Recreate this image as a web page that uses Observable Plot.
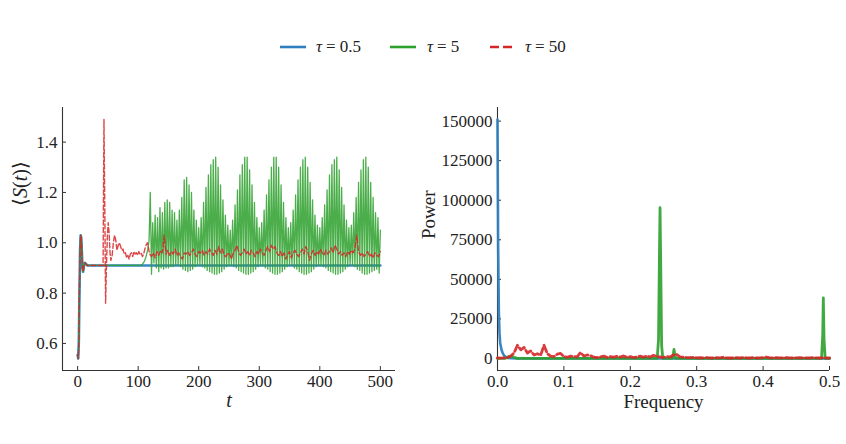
<!DOCTYPE html>
<html>
<head>
<meta charset="utf-8">
<script src="https://cdn.jsdelivr.net/npm/d3@7"></script>
<script src="https://cdn.jsdelivr.net/npm/@observablehq/plot@0.6"></script>
<style>
  html, body { margin: 0; padding: 0; background: #fff; }
  #page { position: relative; width: 846px; height: 444px; overflow: hidden; font-family: "Liberation Serif", "Times New Roman", serif; color: #222; }
  #legend { position: absolute; top: 36px; left: 0; width: 846px; height: 22px; font-size: 17px; font-family: "Liberation Serif", "Times New Roman", serif; }
  .item { position: absolute; top: 0; height: 22px; display: flex; align-items: center; }
  .item svg { display: block; }
  .tau { font-style: italic; }
  #left { position: absolute; left: 0; top: 90px; }
  #right { position: absolute; left: 420px; top: 90px; }
  #left text, #right text { font-family: "Liberation Serif", "Times New Roman", serif; }
</style>
</head>
<body>
<div id="page">
  <div id="legend"></div>
  <div id="left"></div>
  <div id="right"></div>
</div>
<script>
// ---- Series labels and colours ----
const seriesNames = ["0.5", "5", "50"];
const seriesColors = ["#2e7fc0", "#2ca02c", "#d62728"];

// ---- Mean order parameter <S(t)> ----
// tau = 0.5: quick relaxation to a fixed point
const blueT = [0, 1, 2, 3, 4, 5, 6, 7, 8, 9, 10, 11, 12, 14, 16, 20, 500];
const blueS = [0.555, 0.54, 0.61, 0.80, 0.97, 1.03, 1.02, 0.96, 0.90, 0.885, 0.90, 0.915, 0.92, 0.915, 0.91, 0.91, 0.91];

// tau = 5: relaxes, then a growing oscillation sets in near t = 105
const greenEarlyT = [0, 1, 2, 3, 4, 5, 6, 7, 8, 9, 10, 11, 12, 14, 16, 20, 104, 107, 110, 113, 116, 118];
const greenEarlyS = [0.555, 0.54, 0.61, 0.80, 0.97, 1.03, 1.02, 0.96, 0.90, 0.885, 0.90, 0.915, 0.92, 0.915, 0.91, 0.91, 0.91, 0.915, 0.925, 0.945, 0.975, 1.01];
// sampled every 2 time units from t = 120 (alternating crest / trough)
const greenOscStart = 120, greenOscStep = 2;
const greenOsc = [
  1.20, 0.875, 1.08, 0.92, 1.11, 0.90, 1.10, 0.885, 1.14, 0.90, 1.12, 0.895, 1.16, 0.90, 1.17, 0.90,
  1.16, 0.905, 1.13, 0.905, 1.12, 0.91, 1.09, 0.91, 1.13, 0.905, 1.18, 0.895, 1.25, 0.89, 1.26, 0.885,
  1.23, 0.89, 1.20, 0.895, 1.13, 0.905, 1.09, 0.91, 1.06, 0.91, 1.10, 0.905, 1.16, 0.90, 1.22, 0.89,
  1.27, 0.885, 1.31, 0.88, 1.33, 0.875, 1.34, 0.875, 1.30, 0.88, 1.23, 0.885, 1.17, 0.895, 1.11, 0.905,
  1.07, 0.91, 1.05, 0.91, 1.09, 0.905, 1.15, 0.90, 1.21, 0.89, 1.27, 0.885, 1.31, 0.88, 1.34, 0.875,
  1.34, 0.875, 1.29, 0.88, 1.23, 0.885, 1.16, 0.895, 1.10, 0.905, 1.06, 0.91, 1.08, 0.91, 1.13, 0.90,
  1.19, 0.895, 1.25, 0.885, 1.30, 0.88, 1.34, 0.875, 1.34, 0.875, 1.30, 0.88, 1.23, 0.885, 1.16, 0.895,
  1.10, 0.905, 1.06, 0.91, 1.08, 0.91, 1.13, 0.90, 1.19, 0.895, 1.25, 0.885, 1.30, 0.88, 1.33, 0.875,
  1.34, 0.875, 1.30, 0.88, 1.24, 0.885, 1.17, 0.895, 1.11, 0.905, 1.07, 0.91, 1.06, 0.91, 1.10, 0.905,
  1.15, 0.90, 1.21, 0.89, 1.27, 0.885, 1.31, 0.88, 1.33, 0.875, 1.34, 0.875, 1.29, 0.88, 1.22, 0.885,
  1.15, 0.895, 1.09, 0.905, 1.06, 0.91, 1.07, 0.91, 1.12, 0.905, 1.18, 0.895, 1.24, 0.89, 1.29, 0.88,
  1.33, 0.875, 1.34, 0.875, 1.30, 0.88, 1.24, 0.885, 1.18, 0.89, 1.12, 0.895, 1.10, 0.88, 1.05
];

// tau = 50: large excursion near t = 44, then irregular fluctuations
const redEarlyT = [0, 1, 2, 3, 4, 5, 6, 7, 8, 9, 10, 11, 12, 14, 16, 20, 30, 42, 43.5, 45, 46.2, 47.5, 49, 50.5, 52, 53.5, 55,
  57, 59, 61, 63, 65, 67, 69, 71, 73, 75, 77, 79, 81, 83, 85, 87, 89, 91, 93, 95, 97, 99, 101, 103, 105, 107, 109, 111, 113, 115, 117];
const redEarlyS = [0.555, 0.54, 0.61, 0.80, 0.97, 1.03, 1.02, 0.96, 0.90, 0.885, 0.90, 0.915, 0.92, 0.915, 0.91, 0.91, 0.91, 0.91, 1.49, 1.10, 0.76, 0.90, 1.02, 1.08, 1.04, 0.96, 0.93,
  0.95, 1.00, 1.03, 1.01, 0.97, 0.99, 1.00, 0.985, 0.97, 0.975, 0.955, 0.96, 0.94, 0.95, 0.935, 0.955, 0.96, 0.945, 0.965, 0.955, 0.96, 0.95, 0.965, 0.955, 0.96, 0.945, 0.955, 0.975, 0.99, 1.00, 0.98];
// sampled every 3 time units from t = 119
const redTailStart = 119, redTailStep = 3;
const redTail = [
  0.955, 0.945, 0.96, 0.94, 0.965, 0.95, 0.97, 0.96, 1.03, 0.955, 0.97, 0.95, 0.965, 0.955, 0.975, 0.95,
  0.96, 0.945, 0.935, 0.96, 0.955, 0.965, 0.95, 0.96, 0.975, 0.955, 0.945, 0.965, 0.96, 0.97, 0.95, 0.965,
  0.955, 0.975, 0.96, 0.95, 0.97, 0.955, 0.985, 0.96, 0.975, 0.95, 0.945, 0.96, 0.955, 0.935, 0.96, 0.97,
  0.99, 0.965, 0.95, 0.96, 0.975, 0.955, 0.965, 0.95, 0.97, 0.96, 0.945, 0.965, 0.955, 0.975, 0.96, 0.95,
  0.97, 0.985, 0.965, 0.99, 0.975, 0.985, 0.96, 0.95, 0.965, 0.945, 0.96, 0.935, 0.955, 0.965, 0.94, 0.96,
  0.97, 0.955, 0.945, 0.96, 0.975, 0.955, 0.985, 0.965, 0.93, 0.955, 0.97, 0.95, 0.965, 0.955, 0.975, 0.96,
  0.95, 0.97, 0.955, 0.965, 0.98, 0.96, 0.99, 0.975, 0.955, 0.965, 0.95, 0.96, 0.945, 0.965, 0.955, 0.97,
  0.96, 0.975, 1.03, 0.965, 0.95, 0.96, 0.945, 0.955, 0.965, 0.945, 0.955, 0.94, 0.96, 0.95, 0.945, 0.965
];

// ---- Power spectra ----
const blueF = [0, 0.001, 0.002, 0.003, 0.004, 0.006, 0.008, 0.010, 0.013, 0.016, 0.020, 0.030, 0.5];
const blueP = [151000, 70000, 30000, 16000, 10000, 5500, 3200, 1800, 800, 300, 100, 0, 0];

const greenF = [0, 0.012, 0.017, 0.021, 0.025, 0.030, 0.2405, 0.2425, 0.2440, 0.2448, 0.2458, 0.2472, 0.2490,
  0.2630, 0.2648, 0.2658, 0.2670, 0.2685, 0.4880, 0.4898, 0.4907, 0.4918, 0.4935, 0.5];
const greenP = [0, 100, 1200, 1500, 800, 100, 0, 12000, 70000, 95300, 60000, 8000, 0,
  0, 3000, 5700, 2500, 0, 0, 15000, 38300, 12000, 0, 0];

// tau = 50 spectrum, sampled every 0.005 from f = 0
const redSpecStart = 0, redSpecStep = 0.005;
const redSpec = [
  300, 200, 400, 600, 1500, 3500, 8400, 5500, 7000, 3500, 4800, 2200, 3000, 2000, 8400, 3000,
  1500, 1200, 2700, 3200, 1200, 800, 1500, 1200, 1000, 3800, 1500, 2200, 1800, 800, 600, 1000,
  1500, 700, 1200, 800, 1300, 900, 1600, 700, 1200, 600, 1000, 1500, 800, 1600, 900, 2000,
  1200, 1000, 600, 1200, 900, 2200, 2500, 1000, 800, 600, 500, 700, 400, 500, 300, 600,
  400, 300, 500, 400, 800, 300, 400, 300, 500, 300, 600, 400, 300, 500, 300, 400,
  600, 900, 400, 300, 500, 400, 300, 500, 400, 300, 400, 500, 300, 400, 300, 500,
  400, 300, 400, 300, 300
];

// ---- Axis ticks ----
const tTicks = [0, 100, 200, 300, 400, 500];
const sTicks = [0.6, 0.8, 1.0, 1.2, 1.4];
const fTicks = [0, 0.1, 0.2, 0.3, 0.4, 0.5];
const pTicks = [0, 25000, 50000, 75000, 100000, 125000, 150000];

// ---- Build tables ----
const zipRows = (xs, ys, xk, yk) => xs.map((x, i) => ({[xk]: x, [yk]: ys[i]}));
const stepRows = (start, step, ys, xk, yk) => ys.map((y, i) => ({[xk]: +(start + i * step).toFixed(6), [yk]: y}));

const blueSeries = zipRows(blueT, blueS, "t", "s");
const greenSeries = zipRows(greenEarlyT, greenEarlyS, "t", "s").concat(stepRows(greenOscStart, greenOscStep, greenOsc, "t", "s"));
const redSeries = zipRows(redEarlyT, redEarlyS, "t", "s").concat(stepRows(redTailStart, redTailStep, redTail, "t", "s"));

const blueSpec = zipRows(blueF, blueP, "f", "p");
const greenSpec = zipRows(greenF, greenP, "f", "p");
const redSpecRows = stepRows(redSpecStart, redSpecStep, redSpec, "f", "p");

const serif = "Liberation Serif, Times New Roman, serif";
const axisColor = "#333";
const H = 354, MT = 17, MB = 74;
const frameH = H - MT - MB;
const tickText = {fontFamily: serif, fontSize: 17, fontVariant: "normal", fill: "#222"};

// ---- Left panel: <S(t)> versus t ----
const tDomain = [-25, 525], sDomain = [0.4925, 1.5375];
const leftW = 420, leftML = 62, leftMR = 25;
const leftFrameW = leftW - leftML - leftMR;

const leftPlot = Plot.plot({
  width: leftW, height: H,
  marginLeft: leftML, marginRight: leftMR, marginTop: MT, marginBottom: MB,
  style: {fontFamily: serif, fontSize: "17px", color: "#222", background: "transparent", overflow: "visible"},
  x: {domain: tDomain, label: null},
  y: {domain: sDomain, label: null},
  marks: [
    Plot.axisX(tTicks, {tickSize: 0, tickPadding: 4, tickFormat: d => String(d), ...tickText}),
    Plot.axisY(sTicks, {tickSize: 0, tickPadding: 5, tickFormat: d3.format(".1f"), ...tickText}),
    Plot.tickX(tTicks, {x: d => d, insetTop: frameH - 4, stroke: axisColor, strokeWidth: 1}),
    Plot.tickY(sTicks, {y: d => d, insetRight: leftFrameW - 4, stroke: axisColor, strokeWidth: 1}),
    Plot.ruleX([tDomain[0]], {stroke: axisColor, strokeWidth: 1.1}),
    Plot.ruleY([sDomain[0]], {stroke: axisColor, strokeWidth: 1.1}),
    Plot.line(blueSeries, {x: "t", y: "s", stroke: seriesColors[0], strokeWidth: 2.6, strokeOpacity: 0.95}),
    Plot.line(greenSeries, {x: "t", y: "s", stroke: seriesColors[1], strokeWidth: 1.3, strokeOpacity: 0.85}),
    Plot.line(redSeries, {x: "t", y: "s", stroke: seriesColors[2], strokeWidth: 1.4, strokeOpacity: 0.85, strokeDasharray: "5,2.5"}),
    Plot.text(["t"], {text: d => d, frameAnchor: "bottom", dy: 36, fontFamily: serif, fontSize: 20, fontStyle: "italic", fill: "#222"}),
    Plot.text(["⟨S(t)⟩"], {text: d => d, frameAnchor: "left", dx: -42, dy: -33, rotate: -90, fontFamily: serif, fontSize: 20, fill: "#222"})
  ]
});

// ---- Right panel: power spectra ----
const fDomain = [0, 0.5], pDomain = [-7600, 158600];
const rightW = 426, rightML = 77, rightMR = 17;
const rightFrameW = rightW - rightML - rightMR;

const rightPlot = Plot.plot({
  width: rightW, height: H,
  marginLeft: rightML, marginRight: rightMR, marginTop: MT, marginBottom: MB,
  style: {fontFamily: serif, fontSize: "17px", color: "#222", background: "transparent", overflow: "visible"},
  x: {domain: fDomain, label: null},
  y: {domain: pDomain, label: null},
  marks: [
    Plot.axisX(fTicks, {tickSize: 0, tickPadding: 4, tickFormat: d3.format(".1f"), ...tickText}),
    Plot.axisY(pTicks, {tickSize: 0, tickPadding: 5, tickFormat: d => String(d), ...tickText}),
    Plot.tickX(fTicks, {x: d => d, insetTop: frameH - 4, stroke: axisColor, strokeWidth: 1}),
    Plot.tickY(pTicks, {y: d => d, insetRight: rightFrameW - 4, stroke: axisColor, strokeWidth: 1}),
    Plot.ruleX([fDomain[0]], {stroke: axisColor, strokeWidth: 1.1}),
    Plot.ruleY([pDomain[0]], {stroke: axisColor, strokeWidth: 1.1}),
    Plot.line(blueSpec, {x: "f", y: "p", stroke: seriesColors[0], strokeWidth: 2.6, strokeOpacity: 0.95}),
    Plot.line(greenSpec, {x: "f", y: "p", stroke: seriesColors[1], strokeWidth: 2.8, strokeOpacity: 0.9}),
    Plot.line(redSpecRows, {x: "f", y: "p", stroke: seriesColors[2], strokeWidth: 2.8, strokeOpacity: 0.9, strokeDasharray: "7,3"}),
    Plot.text(["Frequency"], {text: d => d, frameAnchor: "bottom", dy: 37, fontFamily: serif, fontSize: 19, fill: "#222"}),
    Plot.text(["Power"], {text: d => d, frameAnchor: "left", dx: -69, rotate: -90, fontFamily: serif, fontSize: 19, fill: "#222"})
  ]
});

document.getElementById("left").appendChild(leftPlot);
document.getElementById("right").appendChild(rightPlot);

// Set the italic symbols inside the y label ⟨S(t)⟩
d3.select(leftPlot).selectAll("text").each(function() {
  if (this.textContent === "⟨S(t)⟩") {
    const el = d3.select(this).text("");
    el.append("tspan").text("⟨");
    el.append("tspan").attr("font-style", "italic").text("S");
    el.append("tspan").text("(");
    el.append("tspan").attr("font-style", "italic").text("t");
    el.append("tspan").text(")⟩");
  }
});

// ---- Legend ----
const legendItems = [
  {swatchX: 280, textX: 316, dash: null},
  {swatchX: 390, textX: 427, dash: null},
  {swatchX: 490, textX: 525, dash: "9,4"}
];
const legend = d3.select("#legend");
legendItems.forEach((it, i) => {
  const sw = legend.append("div").attr("class", "item").style("left", it.swatchX + "px");
  const s = sw.append("svg").attr("width", 26).attr("height", 6);
  s.append("line").attr("x1", 0).attr("x2", 26).attr("y1", 3).attr("y2", 3)
    .attr("stroke", seriesColors[i]).attr("stroke-width", 2.6)
    .attr("stroke-dasharray", it.dash);
  const lab = legend.append("div").attr("class", "item").style("left", it.textX + "px");
  lab.append("span").attr("class", "tau").text("τ");
  lab.append("span").style("margin", "0 4px").text("=");
  lab.append("span").text(seriesNames[i]);
});
</script>
</body>
</html>
